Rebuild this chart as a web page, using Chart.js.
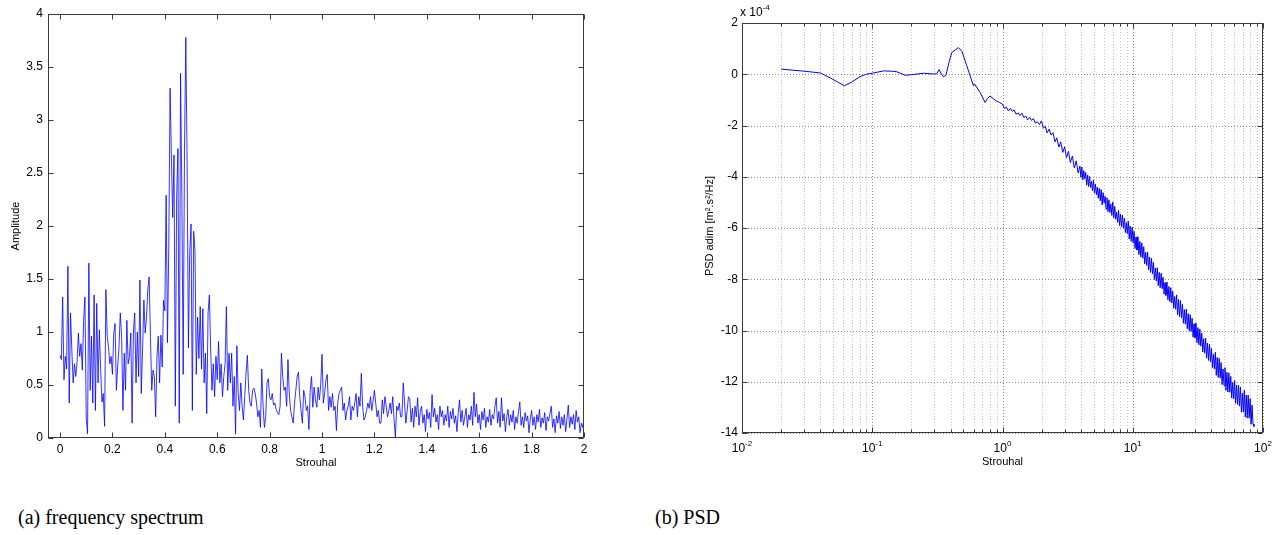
<!DOCTYPE html>
<html><head><meta charset="utf-8">
<script src="https://cdn.jsdelivr.net/npm/chart.js@4.4.1/dist/chart.umd.min.js"></script>
<style>
html,body{margin:0;padding:0;background:#fff;}
#page{position:relative;width:1273px;height:535px;overflow:hidden;background:#fff;}
#c1{position:absolute;left:0;top:0;}
#c2{position:absolute;left:695px;top:0;}
.cap{position:absolute;font-family:"Liberation Serif","Times New Roman",serif;font-size:20px;line-height:23px;color:#000;white-space:nowrap;}
</style></head><body>
<div id="page">
<canvas id="c1" width="600" height="480"></canvas>
<canvas id="c2" width="578" height="480"></canvas>
<div class="cap" style="left:18px;top:506px;">(a) frequency spectrum</div>
<div class="cap" style="left:655px;top:506px;">(b) PSD</div>
</div>
<script>
// ---------- (a) frequency spectrum ----------
const strouhalStep = 0.005; // frequency resolution of the spectrum (Strouhal)
const spectrumAmplitude = [
0.78,0.74,1.33,0.55,0.77,0.65,1.62,0.33,1.18,0.83,0.52,0.7,0.58,0.72,0.99,0.77,0.89,0.64,1.11,1.33,
0.19,0.04,1.65,0.45,0.96,0.33,1.35,0.26,1.27,0.52,1.02,0.64,0.34,0.42,0.11,1.4,0.96,0.86,0.7,0.77,
0.6,0.99,1.08,0.45,0.67,0.86,1.18,0.96,0.26,0.8,0.45,1.11,0.7,0.77,0.99,0.14,1.0,1.18,0.52,1.0,
0.58,1.49,0.42,0.83,1.3,0.99,1.14,1.4,1.52,0.96,0.45,0.64,0.58,0.2,0.77,0.96,0.52,0.97,0.67,1.3,
1.2,2.29,0.9,1.8,3.3,2.66,2.08,2.67,0.3,2.26,2.73,0.14,3.44,2.28,0.6,2.72,3.78,2.6,0.85,1.75,
2.02,0.26,1.95,1.77,0.6,1.14,0.75,1.24,0.65,1.22,0.52,0.8,0.23,1.18,1.35,0.83,0.45,0.7,0.39,0.77,
0.55,0.91,0.52,0.7,0.39,0.58,0.7,1.24,0.45,0.8,0.52,0.8,0.3,0.58,0.04,0.87,0.42,0.26,0.52,0.3,
0.17,0.39,0.61,0.78,0.45,0.33,0.3,0.45,0.47,0.42,0.33,0.2,0.26,0.1,0.65,0.3,0.1,0.2,0.52,0.56,
0.39,0.36,0.42,0.31,0.33,0.27,0.24,0.22,0.3,0.8,0.58,0.45,0.48,0.3,0.74,0.42,0.26,0.2,0.14,0.33,
0.45,0.58,0.62,0.39,0.26,0.14,0.45,0.39,0.26,0.3,0.08,0.45,0.58,0.29,0.48,0.36,0.29,0.48,0.36,0.5,
0.79,0.33,0.42,0.55,0.6,0.26,0.39,0.29,0.42,0.26,0.3,0.07,0.33,0.42,0.45,0.48,0.26,0.33,0.17,0.26,
0.3,0.39,0.17,0.3,0.26,0.33,0.42,0.2,0.39,0.3,0.61,0.3,0.17,0.2,0.26,0.33,0.28,0.39,0.26,0.35,
0.45,0.33,0.2,0.26,0.14,0.14,0.36,0.23,0.39,0.3,0.2,0.26,0.33,0.23,0.39,0.17,0.01,0.3,0.26,0.33,
0.2,0.2,0.52,0.33,0.14,0.26,0.39,0.37,0.15,0.28,0.1,0.3,0.2,0.38,0.12,0.25,0.3,0.14,0.22,0.06,
0.27,0.18,0.24,0.1,0.41,0.2,0.28,0.15,0.22,0.08,0.3,0.2,0.26,0.12,0.22,0.16,0.3,0.1,0.25,0.18,
0.28,0.14,0.21,0.06,0.24,0.36,0.15,0.26,0.12,0.2,0.28,0.1,0.22,0.17,0.3,0.12,0.43,0.2,0.32,0.14,
0.22,0.08,0.25,0.17,0.28,0.1,0.2,0.15,0.27,0.12,0.22,0.18,0.3,0.38,0.14,0.25,0.1,0.38,0.16,0.23,
0.06,0.2,0.27,0.12,0.22,0.15,0.26,0.08,0.2,0.14,0.25,0.34,0.12,0.2,0.1,0.24,0.16,0.21,0.05,0.18,
0.26,0.12,0.2,0.08,0.22,0.15,0.27,0.1,0.19,0.14,0.24,0.07,0.2,0.16,0.23,0.3,0.1,0.18,0.05,0.21,
0.14,0.25,0.09,0.2,0.12,0.22,0.06,0.18,0.31,0.1,0.2,0.13,0.22,0.08,0.26,0.15,0.2,0.05,0.14,0.1,
0.19];
const spectrumXTicks = [0,0.2,0.4,0.6,0.8,1,1.2,1.4,1.6,1.8,2];
const spectrumXLabels = ['0','0.2','0.4','0.6','0.8','1','1.2','1.4','1.6','1.8','2'];
const spectrumYTicks = [0,0.5,1,1.5,2,2.5,3,3.5,4];
const spectrumYLabels = ['0','0.5','1','1.5','2','2.5','3','3.5','4'];

// ---------- (b) PSD (values in units of 1e-4) ----------
const psdStrouhal = [
0.02,0.03,0.04,0.05,0.061,0.07,0.08,0.09,0.1,0.122,0.14,0.154,0.179,0.2,0.247,0.294,0.313,0.326,0.34,0.352,
0.368,0.39,0.408,0.459,0.488,0.532,0.581,0.599,0.61,0.673,0.735,0.765,0.8,0.85,0.9,0.95,
1.00,1.035,1.07,1.11,1.15,1.19,1.23,1.27,1.32,1.36,1.41,1.46,1.51,1.56,1.62,1.67,1.73,1.79,1.85,1.92,
1.99,2.06,2.13,2.2,2.28,2.36,2.44,2.53,2.61,2.71,2.8,2.9,3.0,3.1,3.21,3.32,3.44,3.56,3.68,3.81,
3.93,3.998,4.067,4.137,4.208,4.281,4.355,4.43,4.506,4.584,4.663,4.743,4.825,4.908,4.993,5.079,5.167,5.256,5.346,5.439,
5.532,5.628,5.725,5.824,5.924,6.026,6.13,6.236,6.343,6.452,6.564,6.677,6.792,6.909,7.028,7.15,7.273,7.398,7.526,7.656,
7.788,7.922,8.058,8.197,8.339,8.482,8.629,8.777,8.929,9.083,9.239,9.398,9.56,9.725,9.893,10.064,10.237,10.414,10.593,10.776,
10.962,11.151,11.343,11.539,11.738,11.94,12.146,12.355,12.568,12.785,13.006,13.23,13.458,13.69,13.926,14.166,14.41,14.659,14.912,15.169,
15.43,15.696,15.967,16.242,16.522,16.807,17.097,17.392,17.692,17.997,18.307,18.623,18.944,19.27,19.603,19.941,20.284,20.634,20.99,21.352,
21.72,22.094,22.475,22.863,23.257,23.658,24.066,24.481,24.903,25.332,25.769,26.213,26.665,27.125,27.593,28.069,28.553,29.045,29.546,30.055,
30.574,31.101,31.637,32.183,32.737,33.302,33.876,34.46,35.054,35.659,36.274,36.899,37.535,38.183,38.841,39.511,40.192,40.885,41.59,42.307,
43.037,43.779,44.534,45.302,46.083,46.877,47.686,48.508,49.344,50.195,51.061,51.941,52.837,53.748,54.674,55.617,56.576,57.552,58.544,59.553,
60.58,61.625,62.687,63.768,64.868,65.986,67.124,68.281,69.458,70.656,71.874,73.113,74.374,75.656,76.961,78.288,79.637,81.01,82.407,83.828,
85.273];
const psdValue = [
0.2,0.12,0.05,-0.2,-0.45,-0.3,-0.1,0.0,0.04,0.13,0.12,0.1,-0.04,-0.02,0.04,0.01,0.02,0.18,0.0,-0.1,
-0.04,0.5,0.85,1.04,0.9,0.33,-0.26,-0.45,-0.38,-0.71,-1.1,-0.95,-0.85,-0.95,-1.05,-1.1,
-1.17,-1.34,-1.28,-1.43,-1.33,-1.45,-1.39,-1.56,-1.51,-1.61,-1.52,-1.69,-1.63,-1.78,-1.68,-1.80,-1.73,-1.91,-1.85,-1.96,
-1.82,-2.10,-2.03,-2.29,-2.14,-2.37,-2.28,-2.64,-2.48,-2.84,-2.64,-3.05,-2.83,-3.26,-3.00,-3.45,-3.19,-3.66,-3.38,-3.85,
-3.58,-4.02,-3.62,-4.12,-3.76,-4.08,-3.83,-4.33,-3.93,-4.38,-3.99,-4.42,-4.18,-4.55,-4.12,-4.64,-4.29,-4.70,-4.40,-4.84,
-4.45,-4.94,-4.50,-5.10,-4.62,-5.02,-4.76,-5.26,-4.82,-5.36,-4.90,-5.40,-5.06,-5.51,-4.98,-5.60,-5.16,-5.66,-5.38,-5.78,
-5.31,-5.90,-5.46,-5.96,-5.50,-6.00,-5.62,-6.18,-5.79,-6.22,-5.73,-6.43,-5.92,-6.52,-5.97,-6.58,-6.13,-6.80,-6.35,-6.86,
-6.34,-7.04,-6.52,-7.13,-6.58,-7.18,-6.73,-7.40,-6.95,-7.46,-6.94,-7.64,-7.13,-7.73,-7.18,-7.79,-7.34,-8.01,-7.56,-8.07,
-7.55,-8.25,-7.73,-8.33,-7.77,-8.37,-7.92,-8.58,-8.13,-8.63,-8.11,-8.80,-8.28,-8.88,-8.33,-8.92,-8.47,-9.13,-8.67,-9.17,
-8.61,-9.39,-8.79,-9.46,-8.83,-9.50,-8.98,-9.72,-9.19,-9.75,-9.16,-9.93,-9.34,-10.01,-9.38,-10.04,-9.52,-10.26,-9.74,-10.29,
-9.70,-10.48,-9.89,-10.56,-9.94,-10.61,-10.10,-10.84,-10.32,-10.89,-10.30,-11.08,-10.49,-11.17,-10.54,-11.22,-10.70,-11.45,-10.93,-11.50,
-10.85,-11.75,-11.05,-11.83,-11.09,-11.86,-11.25,-12.11,-11.50,-12.15,-11.45,-12.34,-11.63,-12.40,-11.65,-12.41,-11.79,-12.64,-12.02,-12.66,
-11.95,-12.84,-12.13,-12.89,-12.13,-12.95,-12.20,-13.19,-12.44,-13.18,-12.33,-13.38,-12.52,-13.42,-12.52,-13.42,-12.66,-13.66,-12.91,-13.65,
-13.75];
const psdYTicks = [2,0,-2,-4,-6,-8,-10,-12,-14];
const psdYLabels = ['2','0','-2','-4','-6','-8','-10','-12','-14'];
const psdXGrid = [0.01,0.02,0.03,0.04,0.05,0.06,0.07,0.08,0.09,0.1,0.2,0.3,0.4,0.5,0.6,0.7,0.8,0.9,
1,2,3,4,5,6,7,8,9,10,20,30,40,50,60,70,80,90,100];
const psdXDecades = [0.01,0.1,1,10,100];
const psdXExponents = ['-2','-1','0','1','2'];

const FONT = '"Liberation Sans", Arial, Helvetica, sans-serif';
const AXIS = '#3a3a3a';

function crisp(v){ return Math.round(v) + 0.5; }

// ---------- chart (a) ----------
const framePluginA = {
  id:'frameA',
  afterDraw(chart){
    const {ctx, chartArea:a, scales:{x,y}} = chart;
    ctx.save();
    ctx.strokeStyle = AXIS; ctx.lineWidth = 1;
    const L = crisp(a.left), R = crisp(a.right)-1, T = crisp(a.top), B = crisp(a.bottom)-1;
    ctx.strokeRect(L, T, R-L, B-T);
    ctx.beginPath();
    spectrumXTicks.forEach(v=>{ const p = crisp(x.getPixelForValue(v)); ctx.moveTo(p,B); ctx.lineTo(p,B-5); ctx.moveTo(p,T); ctx.lineTo(p,T+5); });
    spectrumYTicks.forEach(v=>{ const p = crisp(y.getPixelForValue(v)); ctx.moveTo(L,p); ctx.lineTo(L+5,p); ctx.moveTo(R,p); ctx.lineTo(R-5,p); });
    ctx.stroke();
    ctx.fillStyle = '#000';
    ctx.font = '11px ' + FONT;
    ctx.textAlign = 'center'; ctx.textBaseline = 'middle';
    ctx.fillText('Strouhal', (a.left + a.right)/2, 463);
    ctx.translate(16, 226); ctx.rotate(-Math.PI/2);
    ctx.fillText('Amplitude', 0, 0);
    ctx.restore();
  }
};

new Chart(document.getElementById('c1'), {
  type:'line',
  data:{ datasets:[{
    data: spectrumAmplitude.map((v,i)=>({x: i*strouhalStep, y: v})),
    borderColor:'#0000ff', borderWidth:0.8, pointRadius:0, tension:0, fill:false
  }]},
  options:{
    responsive:false, animation:false, devicePixelRatio:1,
    layout:{padding:{top:14, right:16, left:0, bottom:0}},
    plugins:{legend:{display:false}, tooltip:{enabled:false}},
    scales:{
      x:{ type:'linear', min:-0.046, max:2,
          afterBuildTicks(s){ s.ticks = spectrumXTicks.map(v=>({value:v})); },
          afterFit(s){ s.height = 480 - 438; },
          ticks:{ color:'#000', font:{family:FONT, size:12}, padding:4, maxRotation:0, autoSkip:false,
                  callback:(v,i)=>spectrumXLabels[i] },
          grid:{display:false, drawTicks:false}, border:{display:false} },
      y:{ type:'linear', min:0, max:4,
          afterBuildTicks(s){ s.ticks = spectrumYTicks.map(v=>({value:v})); },
          afterFit(s){ s.width = 48; },
          ticks:{ color:'#000', font:{family:FONT, size:12}, padding:5, autoSkip:false,
                  callback:(v,i)=>spectrumYLabels[i] },
          grid:{display:false, drawTicks:false}, border:{display:false} }
    }
  },
  plugins:[framePluginA]
});

// ---------- chart (b) ----------
function isDecade(v){ const l = Math.log10(v); return Math.abs(l - Math.round(l)) < 1e-9; }

const framePluginB = {
  id:'frameB',
  beforeDatasetsDraw(chart){
    const {ctx, chartArea:a, scales:{x,y}} = chart;
    ctx.save();
    ctx.lineWidth = 1;
    ctx.setLineDash([1,2]);
    psdXGrid.forEach(v=>{
      const p = crisp(x.getPixelForValue(v));
      ctx.strokeStyle = isDecade(v) ? '#8a8a8a' : '#c4c4c4';
      ctx.beginPath(); ctx.moveTo(p, a.top); ctx.lineTo(p, a.bottom); ctx.stroke();
    });
    ctx.strokeStyle = '#8a8a8a';
    psdYTicks.forEach(v=>{
      const p = crisp(y.getPixelForValue(v));
      ctx.beginPath(); ctx.moveTo(a.left, p); ctx.lineTo(a.right, p); ctx.stroke();
    });
    ctx.restore();
  },
  afterDraw(chart){
    const {ctx, chartArea:a, scales:{x,y}} = chart;
    ctx.save();
    ctx.strokeStyle = AXIS; ctx.lineWidth = 1;
    const L = crisp(a.left), R = crisp(a.right)-1, T = crisp(a.top), B = crisp(a.bottom)-1;
    ctx.strokeRect(L, T, R-L, B-T);
    ctx.beginPath();
    psdXGrid.forEach(v=>{
      const p = crisp(x.getPixelForValue(v)); const len = isDecade(v) ? 5 : 3;
      ctx.moveTo(p,B); ctx.lineTo(p,B-len); ctx.moveTo(p,T); ctx.lineTo(p,T+len);
    });
    psdYTicks.forEach(v=>{ const p = crisp(y.getPixelForValue(v)); ctx.moveTo(L,p); ctx.lineTo(L+5,p); ctx.moveTo(R,p); ctx.lineTo(R-5,p); });
    ctx.stroke();
    ctx.fillStyle = '#000';
    ctx.textBaseline = 'alphabetic'; ctx.textAlign = 'left';
    psdXDecades.forEach((v,i)=>{
      const p = x.getPixelForValue(v);
      ctx.font = '12px ' + FONT; const w1 = ctx.measureText('10').width;
      ctx.font = '8px ' + FONT; const w2 = ctx.measureText(psdXExponents[i]).width;
      const start = p - (w1 + w2)/2;
      ctx.font = '12px ' + FONT; ctx.fillText('10', start, 452);
      ctx.font = '8px ' + FONT; ctx.fillText(psdXExponents[i], start + w1, 446);
    });
    ctx.font = '12px ' + FONT; ctx.fillText('x 10', a.left - 2, 16);
    const wm = ctx.measureText('x 10').width;
    ctx.font = '8px ' + FONT; ctx.fillText('-4', a.left - 2 + wm, 10);
    ctx.font = '11px ' + FONT; ctx.textAlign = 'center'; ctx.textBaseline = 'middle';
    ctx.fillText('Strouhal', (a.left + a.right)/2, 462);
    ctx.translate(15, 226); ctx.rotate(-Math.PI/2);
    ctx.fillText('PSD adim [m\u00B2.s\u00B2/Hz]', 0, 0);
    ctx.restore();
  }
};

new Chart(document.getElementById('c2'), {
  type:'line',
  data:{ datasets:[{
    data: psdStrouhal.map((s,i)=>({x:s, y:psdValue[i]})),
    borderColor:'#0000ff', borderWidth:1, pointRadius:0, tension:0, fill:false
  }]},
  options:{
    responsive:false, animation:false, devicePixelRatio:1,
    layout:{padding:{top:23, right:10, left:0, bottom:0}},
    plugins:{legend:{display:false}, tooltip:{enabled:false}},
    scales:{
      x:{ type:'logarithmic', min:0.01, max:100,
          afterBuildTicks(s){ s.ticks = psdXGrid.map(v=>({value:v})); },
          afterFit(s){ s.height = 480 - 433; },
          ticks:{ display:false },
          grid:{display:false, drawTicks:false}, border:{display:false} },
      y:{ type:'linear', min:-14, max:2,
          afterBuildTicks(s){ s.ticks = psdYTicks.map(v=>({value:v})); },
          afterFit(s){ s.width = 47; },
          ticks:{ color:'#000', font:{family:FONT, size:12}, padding:4, autoSkip:false,
                  callback:(v,i)=>psdYLabels[i] },
          grid:{display:false, drawTicks:false}, border:{display:false} }
    }
  },
  plugins:[framePluginB]
});
</script>
</body></html>
